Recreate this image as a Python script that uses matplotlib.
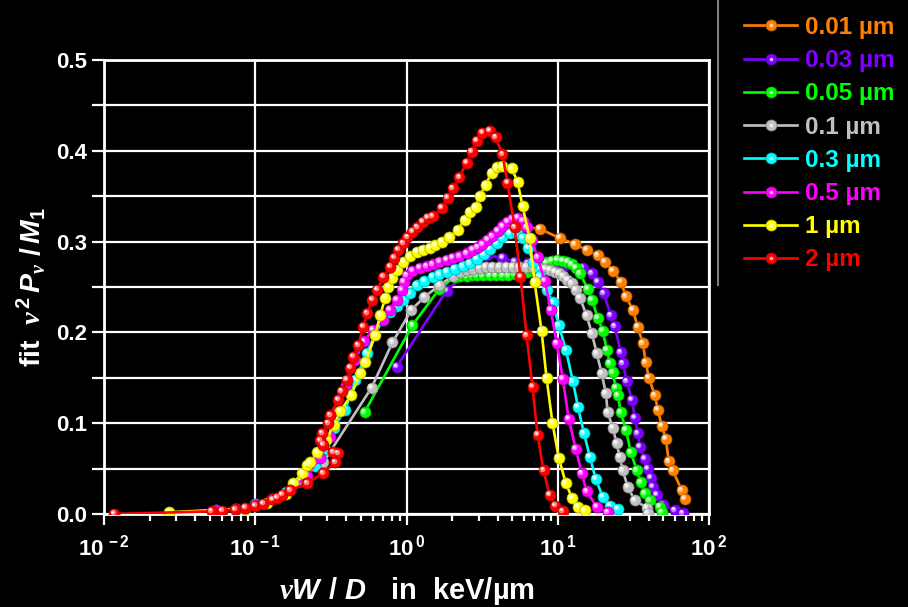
import numpy as np
import matplotlib
matplotlib.use("Agg")
import matplotlib.pyplot as plt
import matplotlib.colors as mcolors
from matplotlib.lines import Line2D
from matplotlib.transforms import ScaledTranslation
from matplotlib.ticker import LogLocator, MultipleLocator, NullFormatter, FixedLocator, FixedFormatter

plt.rcParams['font.family'] = ['Liberation Sans', 'DejaVu Sans']
plt.rcParams['font.weight'] = 'bold'
plt.rcParams['mathtext.fontset'] = 'custom'
plt.rcParams['mathtext.rm'] = 'Liberation Sans:bold'
plt.rcParams['mathtext.it'] = 'Liberation Sans:italic:bold'
plt.rcParams['mathtext.bf'] = 'Liberation Sans:bold'
plt.rcParams['mathtext.sf'] = 'Liberation Serif:italic'
plt.rcParams['mathtext.default'] = 'rm'

# fitted spectra, x in keV/um, y = fit nu^2 P_nu / M1
x_001 = [5.78, 7.60, 10.3, 12.95, 15.5, 18.4, 20.5, 23.1, 26.1, 28.2, 31.3, 33.8, 36.5, 38.2, 40.0,
         43.8, 45.9, 48.7, 51.8, 54.2, 57.6, 66.0, 69.1]
y_001 = [0.317, 0.314, 0.304, 0.297, 0.291, 0.285, 0.278, 0.268, 0.256, 0.240, 0.225, 0.206, 0.188,
         0.167, 0.150, 0.131, 0.115, 0.097, 0.083, 0.058, 0.048, 0.026, 0.017]

x_003 = [0.859, 1.839, 3.43, 4.31, 5.18, 6.31, 7.96, 9.85, 11.2, 14.6, 16.8, 18.4, 20.1, 22.4, 23.8,
         26.1, 26.9, 28.6, 30.9, 32.3, 33.8, 34.8, 37.6, 39.4, 41.2, 42.5, 45.1, 49.5, 59.4, 67.1]
y_003 = [0.162, 0.246, 0.285, 0.282, 0.278, 0.276, 0.276, 0.275, 0.274, 0.271, 0.265, 0.256, 0.243,
         0.219, 0.207, 0.178, 0.166, 0.146, 0.126, 0.106, 0.089, 0.074, 0.061, 0.050, 0.040, 0.030,
         0.021, 0.010, 0.004, 0.001]

x_005 = [0.528, 1.095, 1.652, 2.077, 2.25, 2.494, 2.7, 2.904, 3.2, 3.54, 3.9, 4.31, 4.7, 5.18, 5.7,
         6.22, 6.9, 7.60, 8.4, 9.13, 9.9, 10.8, 11.6, 12.4, 13.2, 14.0, 15.8, 16.8, 18.4, 19.8, 21.1,
         22.07, 23.1, 24.2, 24.9, 26.1, 28.2, 30.4, 33.3, 35.4, 37.6, 40.6, 47.3, 48.7]
y_005 = [0.112, 0.208, 0.248, 0.261, 0.262, 0.262, 0.263, 0.263, 0.263, 0.263, 0.263, 0.263, 0.263,
         0.264, 0.265, 0.267, 0.270, 0.273, 0.277, 0.279, 0.280, 0.279, 0.278, 0.275, 0.271, 0.265,
         0.248, 0.236, 0.216, 0.202, 0.181, 0.166, 0.156, 0.139, 0.131, 0.112, 0.093, 0.068, 0.048,
         0.035, 0.023, 0.015, 0.008, 0.002]

x_01 = [0.282, 0.587, 0.808, 1.079, 1.315, 1.652, 2.015, 2.25, 2.494, 2.75, 3.04, 3.35, 3.70, 4.1,
        4.58, 5.05, 5.58, 6.2, 6.84, 7.5, 8.20, 8.85, 9.55, 10.2, 10.9, 11.6, 12.4, 13.2, 14.0, 15.5,
        16.8, 18.1, 19.5, 20.8, 21.4, 23.1, 24.5, 25.7, 26.9, 29.0, 32.3, 38.8, 39.4]
y_01 = [0.057, 0.139, 0.189, 0.225, 0.239, 0.252, 0.262, 0.266, 0.269, 0.270, 0.271, 0.272, 0.272,
        0.272, 0.272, 0.272, 0.272, 0.272, 0.272, 0.271, 0.270, 0.269, 0.267, 0.265, 0.262, 0.258,
        0.254, 0.247, 0.238, 0.219, 0.199, 0.177, 0.155, 0.133, 0.112, 0.095, 0.078, 0.063, 0.048,
        0.030, 0.015, 0.007, 0.001]

x_03 = [0.055, 0.075, 0.1, 0.13, 0.16, 0.2, 0.25, 0.29, 0.33, 0.394, 0.46, 0.544, 0.694, 0.772,
        0.859, 0.95, 1.047, 1.165, 1.315, 1.486, 1.652, 1.839, 2.077, 2.346, 2.61, 2.904, 3.23, 3.54,
        3.94, 4.31, 4.80, 5.34, 5.85, 6.31, 6.91, 7.60, 8.46, 9.27, 10.15, 11.3, 12.6, 13.6, 14.9,
        16.3, 17.8, 19.8, 22.1, 24.9]
y_03 = [0.004, 0.006, 0.011, 0.017, 0.024, 0.036, 0.053, 0.072, 0.095, 0.115, 0.148, 0.177, 0.214,
        0.222, 0.229, 0.236, 0.243, 0.252, 0.257, 0.261, 0.264, 0.267, 0.270, 0.273, 0.276, 0.281,
        0.286, 0.292, 0.298, 0.305, 0.309, 0.309, 0.304, 0.293, 0.278, 0.262, 0.247, 0.233, 0.208,
        0.181, 0.146, 0.118, 0.089, 0.063, 0.039, 0.019, 0.009, 0.006]

x_05 = [0.055, 0.075, 0.1, 0.13, 0.17, 0.22, 0.27, 0.31, 0.35, 0.40, 0.46, 0.52, 0.60, 0.694, 0.772,
        0.859, 0.927, 0.96, 1.0, 1.095, 1.22, 1.356, 1.486, 1.652, 1.839, 2.015, 2.24, 2.494, 2.73,
        2.95, 3.18, 3.43, 3.70, 4.00, 4.31, 4.65, 5.02, 5.42, 5.85, 6.22, 6.71, 7.35, 8.20, 8.99,
        9.85, 10.8, 11.8, 13.15, 14.4, 15.5, 18.1, 21.4]
y_05 = [0.004, 0.006, 0.010, 0.016, 0.026, 0.042, 0.062, 0.085, 0.112, 0.142, 0.170, 0.190, 0.203,
        0.214, 0.225, 0.236, 0.247, 0.256, 0.263, 0.268, 0.271, 0.273, 0.275, 0.278, 0.280, 0.282,
        0.284, 0.287, 0.291, 0.294, 0.297, 0.302, 0.306, 0.312, 0.317, 0.322, 0.325, 0.326, 0.323,
        0.316, 0.302, 0.283, 0.257, 0.225, 0.188, 0.149, 0.105, 0.072, 0.045, 0.025, 0.008, 0.002]

x_1 = [0.027, 0.085, 0.12, 0.16, 0.178, 0.205, 0.221, 0.231, 0.257, 0.295, 0.33, 0.365, 0.431, 0.495,
       0.534, 0.622, 0.670, 0.724, 0.757, 0.805, 0.869, 0.952, 1.047, 1.165, 1.276, 1.42, 1.555,
       1.704, 1.924, 2.174, 2.42, 2.61, 2.86, 3.04, 3.33, 3.65, 3.94, 4.31, 4.95, 5.42, 5.85, 6.51,
       7.02, 7.81, 8.43, 9.23, 10.15, 11.3, 12.4, 13.6, 15.1]
y_1 = [0.002, 0.006, 0.012, 0.022, 0.034, 0.045, 0.054, 0.057, 0.068, 0.082, 0.098, 0.113, 0.131,
       0.155, 0.167, 0.197, 0.219, 0.238, 0.250, 0.260, 0.269, 0.278, 0.284, 0.289, 0.291, 0.293,
       0.296, 0.300, 0.305, 0.313, 0.324, 0.333, 0.338, 0.350, 0.362, 0.376, 0.382, 0.383, 0.381,
       0.366, 0.339, 0.304, 0.256, 0.202, 0.150, 0.100, 0.062, 0.034, 0.018, 0.008, 0.004]

x_2 = [0.0117, 0.0517, 0.0605, 0.0737, 0.086, 0.1, 0.113, 0.130, 0.140, 0.151, 0.170, 0.221, 0.282,
       0.338, 0.354, 0.328, 0.282, 0.269, 0.277, 0.304, 0.313, 0.354, 0.374, 0.404, 0.425, 0.444,
       0.480, 0.518, 0.550, 0.594, 0.641, 0.702, 0.781, 0.830, 0.882, 0.952, 1.015, 1.095, 1.18,
       1.276, 1.377, 1.486, 1.704, 1.867, 2.015, 2.24, 2.494, 2.69, 2.904, 3.18, 3.54, 3.88, 4.31,
       4.65, 5.18, 5.67, 6.22, 6.81, 7.35, 8.05, 8.82, 9.65, 10.8]
y_2 = [0.0, 0.003, 0.0035, 0.005, 0.007, 0.009, 0.011, 0.016, 0.018, 0.021, 0.026, 0.034, 0.045,
       0.057, 0.067, 0.068, 0.076, 0.081, 0.089, 0.100, 0.109, 0.126, 0.135, 0.148, 0.161, 0.173,
       0.186, 0.206, 0.221, 0.236, 0.247, 0.261, 0.272, 0.282, 0.291, 0.298, 0.305, 0.311, 0.316,
       0.322, 0.326, 0.328, 0.337, 0.348, 0.359, 0.371, 0.387, 0.399, 0.411, 0.420, 0.422, 0.415,
       0.396, 0.365, 0.316, 0.261, 0.197, 0.140, 0.087, 0.048, 0.021, 0.009, 0.003]

labels = ['0.01 µm', '0.03 µm', '0.05 µm', '0.1 µm', '0.3 µm', '0.5 µm', '1 µm', '2 µm']
colors = ['#ff8000', '#8000ff', '#00ff00', '#c0c0c0', '#00ffff', '#ff00ff', '#ffff00', '#ff0000']
xs = [x_001, x_003, x_005, x_01, x_03, x_05, x_1, x_2]
ys = [y_001, y_003, y_005, y_01, y_03, y_05, y_1, y_2]

fig = plt.figure(figsize=(9.08, 6.07), dpi=100, facecolor='black')
ax = fig.add_axes([104 / 908, 93 / 607, 605 / 908, 454 / 607])
ax.set_facecolor('black')
ax.set_xscale('log')
ax.set_xlim(0.01, 100)
ax.set_ylim(0, 0.5)


def mix(c, other, t):
    a = np.array(mcolors.to_rgb(c))
    b = np.array(mcolors.to_rgb(other))
    return tuple(a * (1 - t) + b * t)


# small offsets for the glossy highlight on each ball
hl1 = ax.transData + ScaledTranslation(-1.1 / 72, 1.1 / 72, fig.dpi_scale_trans)
hl2 = ax.transData + ScaledTranslation(-1.4 / 72, 1.4 / 72, fig.dpi_scale_trans)

handles = []
for i, (x, y, c, lab) in enumerate(zip(xs, ys, colors, labels)):
    z = 3 + i * 0.1
    ax.plot(x, y, '-', color=c, lw=1.9, marker='o', ms=8, mfc=c,
            mec=mix(c, 'black', 0.35), mew=0.5, zorder=z)
    ax.plot(x, y, ls='none', marker='o', ms=4.0, mfc=mix(c, 'white', 0.5), mec='none',
            transform=hl1, zorder=z + 0.01)
    ax.plot(x, y, ls='none', marker='o', ms=1.8, mfc='white', mec='none',
            transform=hl2, zorder=z + 0.02)
    base = Line2D([], [], color=c, lw=1.9, marker='o', ms=8, mfc=c,
                  mec=mix(c, 'black', 0.35), mew=0.5)
    shine = Line2D([], [], ls='none', marker='o', ms=2.6, mfc=mix(c, 'white', 0.7), mec='none')
    handles.append((base, shine))

# grid and frame
ax.set_axisbelow(True)
ax.xaxis.grid(True, which='major', color='white', lw=1.6)
ax.yaxis.grid(True, which='both', color='white', lw=1.6)
for s in ax.spines.values():
    s.set_color('white')
    s.set_linewidth(2)

ax.xaxis.set_major_locator(FixedLocator([0.01, 0.1, 1, 10, 100]))
ax.xaxis.set_major_formatter(FixedFormatter([r'$10^{\,-2}$', r'$10^{\,-1}$', r'$10^{\,0}$',
                                             r'$10^{\,1}$', r'$10^{\,2}$']))
ax.xaxis.set_minor_locator(LogLocator(base=10, subs=np.arange(2, 10)))
ax.xaxis.set_minor_formatter(NullFormatter())
ax.yaxis.set_major_locator(MultipleLocator(0.1))
ax.yaxis.set_minor_locator(MultipleLocator(0.05))
ax.yaxis.set_major_formatter(lambda v, p: f'{v:.1f}')

ax.tick_params(axis='both', which='both', colors='white', width=1.6, direction='out')
ax.tick_params(axis='x', which='major', length=8, labelsize=16, pad=7)
ax.tick_params(axis='x', which='minor', length=5)
ax.tick_params(axis='y', which='both', length=9, labelsize=16, pad=3)

ax.set_ylabel(r'fit  $\mathsf{\nu}^{\,2}\,\mathit{P}_{\mathsf{\nu}}\mathit{\,\,/\,M}_{\mathit{1}}$',
              color='white', fontsize=20.5, fontweight='bold', labelpad=6)
ax.set_xlabel(r'$\mathsf{\nu}\mathit{W\ /\ D}$   in  keV/µm',
              color='white', fontsize=21, fontweight='bold', labelpad=10)

fig.legend(handles=handles, labels=labels, loc='upper left',
           bbox_to_anchor=(744 / 908, 1 - 16 / 607), frameon=False, fontsize=17.5,
           handlelength=2.2, handletextpad=0.33, labelspacing=0.42, borderpad=0,
           borderaxespad=0, labelcolor=colors)

fig.add_artist(Line2D([718 / 908, 718 / 908], [1, 1 - 285 / 607], color='#808080', lw=1.5,
                      transform=fig.transFigure))

fig.savefig('out.png', dpi=100, facecolor='black')
